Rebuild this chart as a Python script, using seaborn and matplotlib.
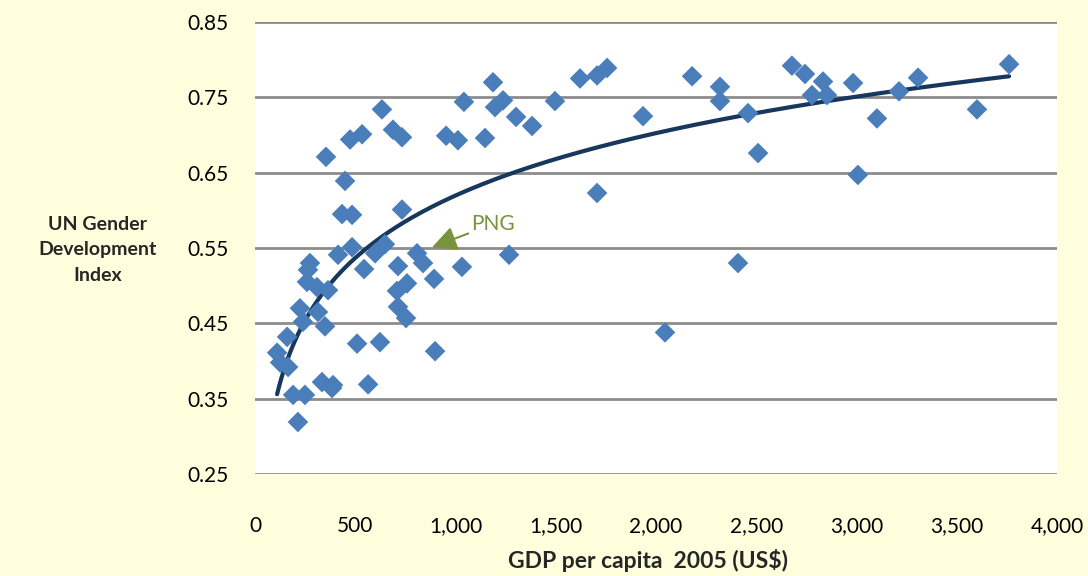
import numpy as np
import pandas as pd
import matplotlib
matplotlib.use('Agg')
import matplotlib.pyplot as plt
import seaborn as sns

# --- data ---
gdp = [274, 264, 259, 309, 364, 414, 484, 544, 599, 648,
       224, 314, 349, 239, 160, 110, 125, 165, 334, 389,
       384, 190, 249, 214, 509, 623, 564, 713, 758, 708,
       713, 753, 808, 838, 893, 898, 633, 688, 733, 534,
       474, 354, 449, 434, 484, 733, 953, 1187, 1042, 1197,
       1237, 1302, 1382, 1496, 1621, 1706, 1756, 1935, 1012, 1147,
       1706, 1267, 1032, 2180, 2319, 2319, 2459, 2509, 2409, 2678,
       2743, 2833, 2778, 2853, 2983, 3102, 3007, 3212, 3307, 3601,
       3761, 2045]
gdi = [0.530, 0.521, 0.505, 0.498, 0.494, 0.541, 0.551, 0.522, 0.543, 0.555,
       0.470, 0.465, 0.446, 0.452, 0.432, 0.411, 0.398, 0.392, 0.372, 0.368,
       0.364, 0.355, 0.355, 0.319, 0.423, 0.425, 0.369, 0.526, 0.503, 0.493,
       0.472, 0.457, 0.543, 0.530, 0.509, 0.413, 0.734, 0.707, 0.697, 0.701,
       0.694, 0.671, 0.639, 0.595, 0.594, 0.601, 0.699, 0.770, 0.744, 0.737,
       0.746, 0.724, 0.712, 0.745, 0.775, 0.779, 0.789, 0.725, 0.693, 0.696,
       0.623, 0.541, 0.525, 0.778, 0.764, 0.745, 0.729, 0.676, 0.530, 0.792,
       0.781, 0.771, 0.753, 0.753, 0.769, 0.722, 0.647, 0.758, 0.776, 0.734,
       0.794, 0.438]
png_xy = (883, 0.551)
png_text_xy = (1080, 0.582)
y_ticks = [0.25, 0.35, 0.45, 0.55, 0.65, 0.75, 0.85]
x_ticks = [0, 500, 1000, 1500, 2000, 2500, 3000, 3500, 4000]

df = pd.DataFrame({'gdp': gdp, 'gdi': gdi})

# logarithmic trendline (as Excel does)
a, b = np.polyfit(np.log(df['gdp']), df['gdi'], 1)
xs = np.linspace(df['gdp'].min(), df['gdp'].max(), 300)
trend = pd.DataFrame({'gdp': xs, 'gdi': a * np.log(xs) + b})

sns.set_style('white')
plt.rcParams['font.family'] = ['Lato', 'DejaVu Sans']

BG = '#FFFFDE'
fig = plt.figure(figsize=(10.88, 5.76), dpi=100, facecolor=BG)
ax = fig.add_axes([0.2344, 0.1771, 0.7371, 0.7847])
ax.set_facecolor('white')

sns.lineplot(data=trend, x='gdp', y='gdi', ax=ax, color='#17375E', lw=3, zorder=3)
sns.scatterplot(data=df, x='gdp', y='gdi', ax=ax, marker='D', s=110, color='#4A7EBB',
                edgecolor='none', zorder=4)

ax.annotate('PNG', xy=png_xy, xytext=png_text_xy, color='#77933C', fontsize=15,
            va='center', ha='left',
            arrowprops=dict(arrowstyle='-|>,head_length=1.0,head_width=0.5',
                            color='#77933C', lw=1.5, shrinkA=0, shrinkB=0))

ax.set_xlim(0, 4000)
ax.set_ylim(0.25, 0.85)
ax.set_xticks(x_ticks)
ax.set_xticklabels([f'{v:,}' for v in x_ticks])
ax.set_yticks(y_ticks)
ax.set_yticklabels([f'{v:.2f}' for v in y_ticks])
ax.tick_params(axis='both', length=0, labelsize=15, colors='black')
ax.tick_params(axis='x', pad=30)
ax.tick_params(axis='y', pad=19)
ax.grid(axis='y', color='#8C8C8C', lw=2)
ax.grid(axis='x', visible=False)
for s in ax.spines.values():
    s.set_visible(False)

ax.set_xlabel('')
ax.set_ylabel('')
fig.text(648 / 1088, 1 - 561 / 576, 'GDP per capita  2005 (US$)', ha='center', va='center',
         fontsize=16.5, fontweight='bold')
fig.text(98 / 1088, 1 - 250 / 576, 'UN Gender\nDevelopment\nIndex', ha='center', va='center',
         fontsize=14, fontweight='bold', linespacing=1.6)

fig.savefig('out.png', dpi=100, facecolor=BG)
